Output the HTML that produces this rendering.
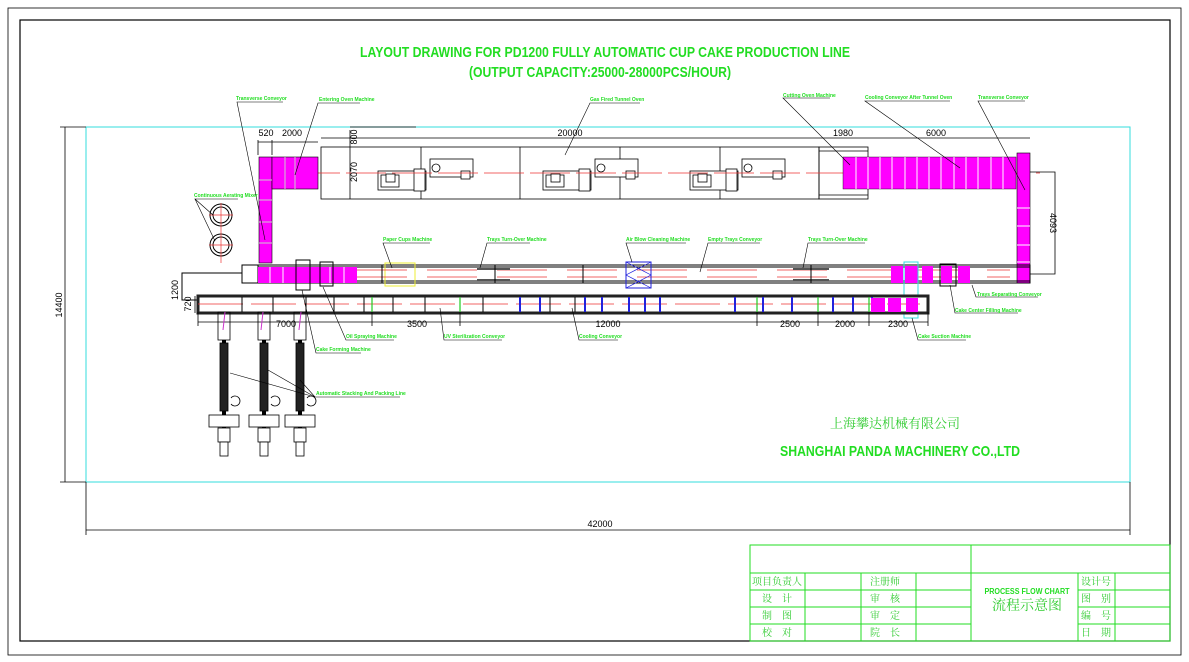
<!DOCTYPE html>
<html><head><meta charset="utf-8"><style>
html,body{margin:0;padding:0;background:#fff}
svg{display:block}
.l{font-family:"Liberation Sans",sans-serif;font-size:5px;font-weight:bold;fill:#22dd22}
.d{font-family:"Liberation Sans",sans-serif;font-size:9px;fill:#000}
.c{font-family:"Liberation Serif","Noto Serif CJK SC",serif;fill:#33cc33}
</style></head><body>
<svg width="1189" height="662" viewBox="0 0 1189 662" xmlns="http://www.w3.org/2000/svg">
<rect x="8" y="8" width="1173" height="647" fill="none" stroke="#000" stroke-width="0.8"/>
<rect x="20" y="20" width="1150" height="621" fill="none" stroke="#000" stroke-width="1.2"/>
<text x="605" y="57" text-anchor="middle" font-family="Liberation Sans,sans-serif" font-weight="bold" font-size="15" fill="#22dd22" textLength="490" lengthAdjust="spacingAndGlyphs">LAYOUT DRAWING FOR PD1200 FULLY AUTOMATIC CUP CAKE PRODUCTION LINE</text>
<text x="600" y="77" text-anchor="middle" font-family="Liberation Sans,sans-serif" font-weight="bold" font-size="15" fill="#22dd22" textLength="262" lengthAdjust="spacingAndGlyphs">(OUTPUT CAPACITY:25000-28000PCS/HOUR)</text>
<rect x="86" y="127" width="1044" height="355" fill="none" stroke="#33dddd" stroke-width="1"/>
<g stroke="#000" stroke-width="0.8" fill="none">
<line x1="65" y1="127" x2="65" y2="482"/><line x1="60" y1="127" x2="86" y2="127"/><line x1="60" y1="482" x2="86" y2="482"/>
<line x1="86" y1="530" x2="1130" y2="530"/><line x1="86" y1="482" x2="86" y2="535"/><line x1="1130" y1="482" x2="1130" y2="535"/>
</g>
<text x="600" y="527" text-anchor="middle" class="d" font-size="12">42000</text>
<text transform="translate(62,305) rotate(-90)" text-anchor="middle" class="d" font-size="12">14400</text>
<g stroke="#000" stroke-width="0.8" fill="none">
<line x1="321" y1="138" x2="1030" y2="138"/>
<line x1="350" y1="127" x2="416" y2="127"/>
<rect x="321" y="147" width="498" height="52"/>
<line x1="421" y1="147" x2="421" y2="199"/><line x1="520" y1="147" x2="520" y2="199"/>
<line x1="620" y1="147" x2="620" y2="199"/><line x1="720" y1="147" x2="720" y2="199"/>
<line x1="350" y1="130" x2="350" y2="199"/>
<rect x="819" y="147" width="49" height="52"/>
<line x1="819" y1="151" x2="868" y2="151"/><line x1="819" y1="195" x2="868" y2="195"/>
<line x1="258" y1="140" x2="258" y2="155"/><line x1="272" y1="140" x2="272" y2="155"/><line x1="258" y1="142" x2="318" y2="142"/>
</g>
<g stroke="#000" stroke-width="0.8" fill="#fff">
<g id="burner"><rect x="378" y="171" width="48" height="19"/><rect x="381" y="175" width="18" height="12"/><rect x="386" y="174" width="9" height="8"/><rect x="414" y="169" width="11" height="22"/><rect x="430" y="159" width="43" height="18"/><circle cx="436" cy="168" r="4"/><rect x="461" y="171" width="9" height="8"/></g>
<use href="#burner" x="165"/><use href="#burner" x="312"/>
</g>
<line x1="300" y1="173" x2="1040" y2="173" stroke="#e33" stroke-width="0.8" stroke-dasharray="40 6"/>
<rect x="259" y="157" width="13" height="106" fill="#f0f" stroke="#000" stroke-width="0.6"/>
<rect x="272" y="157" width="46" height="32" fill="#f0f" stroke="#000" stroke-width="0.6"/>
<g stroke="#ccc" stroke-width="1"><line x1="259" y1="180" x2="272" y2="180"/><line x1="259" y1="200" x2="272" y2="200"/><line x1="259" y1="222" x2="272" y2="222"/><line x1="259" y1="243" x2="272" y2="243"/><line x1="285" y1="157" x2="285" y2="189"/><line x1="295" y1="157" x2="295" y2="189"/></g>
<g stroke="#000" fill="none"><circle cx="221" cy="215" r="11"/><circle cx="221" cy="215" r="8"/><circle cx="221" cy="245" r="11"/><circle cx="221" cy="245" r="8"/></g>
<g stroke="#e33" stroke-width="0.7"><line x1="209" y1="215" x2="233" y2="215"/><line x1="221" y1="203" x2="221" y2="263"/><line x1="209" y1="245" x2="233" y2="245"/></g>
<rect x="843" y="157" width="173" height="32" fill="#f0f" stroke="#000" stroke-width="0.4"/>
<g stroke="#fff" stroke-width="1">
<line x1="856" y1="157" x2="856" y2="189"/><line x1="868" y1="157" x2="868" y2="189"/><line x1="880" y1="157" x2="880" y2="189"/><line x1="892" y1="157" x2="892" y2="189"/><line x1="905" y1="157" x2="905" y2="189"/><line x1="917" y1="157" x2="917" y2="189"/><line x1="929" y1="157" x2="929" y2="189"/><line x1="941" y1="157" x2="941" y2="189"/><line x1="954" y1="157" x2="954" y2="189"/><line x1="966" y1="157" x2="966" y2="189"/><line x1="978" y1="157" x2="978" y2="189"/><line x1="991" y1="157" x2="991" y2="189"/><line x1="1003" y1="157" x2="1003" y2="189"/></g>
<rect x="1017" y="153" width="13" height="130" fill="#f0f" stroke="#000" stroke-width="0.6"/>
<g stroke="#fff"><line x1="1017" y1="208" x2="1030" y2="208"/><line x1="1017" y1="226" x2="1030" y2="226"/><line x1="1017" y1="245" x2="1030" y2="245"/><line x1="1017" y1="262" x2="1030" y2="262"/></g>
<g stroke="#000" stroke-width="0.8" fill="none"><polyline points="1030,172 1055,172 1055,274 1030,274"/></g>
<text transform="translate(1050,223) rotate(90)" text-anchor="middle" class="d">4093</text>
<g stroke="#000" stroke-width="1" fill="none">
<rect x="242" y="265" width="788" height="18"/><line x1="242" y1="267" x2="1030" y2="267"/><line x1="242" y1="281" x2="1030" y2="281"/>
<rect x="242" y="265" width="16" height="18" fill="#fff"/>
<polyline points="242,273 182,273 182,300 198,300"/>
</g>
<rect x="258" y="267" width="99" height="16" fill="#f0f"/>
<g stroke="#fff"><line x1="270" y1="267" x2="270" y2="283"/><line x1="283" y1="267" x2="283" y2="283"/><line x1="330" y1="267" x2="330" y2="283"/><line x1="344" y1="267" x2="344" y2="283"/></g>
<g stroke="#000" fill="none"><rect x="296" y="260" width="14" height="30"/><rect x="320" y="262" width="13" height="24"/></g>
<rect x="385" y="263" width="30" height="23" fill="none" stroke="#ee3" stroke-width="1"/>
<g stroke="#e33" stroke-width="0.7"><line x1="357" y1="270" x2="1010" y2="270" stroke-dasharray="50 20"/><line x1="357" y1="277" x2="1010" y2="277" stroke-dasharray="50 20"/></g>
<rect x="626" y="262" width="25" height="26" fill="none" stroke="#22d" stroke-width="1"/>
<path d="M626,262 L651,275 L626,288 M651,262 L626,275 L651,288" stroke="#22d" fill="none" stroke-width="0.7"/>
<g stroke="#555" stroke-width="2"><line x1="477" y1="269" x2="510" y2="269"/><line x1="477" y1="280" x2="510" y2="280"/><line x1="793" y1="269" x2="829" y2="269"/><line x1="793" y1="280" x2="829" y2="280"/></g>
<g stroke="#000" stroke-width="1"><line x1="382" y1="265" x2="382" y2="283"/><line x1="495" y1="265" x2="495" y2="283"/><line x1="583" y1="265" x2="583" y2="283"/><line x1="811" y1="265" x2="811" y2="283"/></g>
<g fill="#f0f"><rect x="891" y="266" width="12" height="17"/><rect x="905" y="266" width="13" height="17"/><rect x="922" y="266" width="11" height="17"/><rect x="941" y="266" width="11" height="17"/><rect x="958" y="266" width="12" height="17"/></g>
<rect x="940" y="264" width="16" height="22" fill="none" stroke="#000"/>
<rect x="904" y="262" width="14" height="56" fill="none" stroke="#3dd" stroke-width="1"/>
<rect x="198" y="296" width="730" height="17" fill="#fff" stroke="#222" stroke-width="3"/>
<line x1="198" y1="304" x2="920" y2="304" stroke="#e33" stroke-width="0.8" stroke-dasharray="45 8"/>
<g stroke="#22d" stroke-width="2">
<line x1="520" y1="297" x2="520" y2="312"/><line x1="540" y1="297" x2="540" y2="312"/><line x1="585" y1="297" x2="585" y2="312"/><line x1="602" y1="297" x2="602" y2="312"/><line x1="629" y1="297" x2="629" y2="312"/><line x1="645" y1="297" x2="645" y2="312"/><line x1="660" y1="297" x2="660" y2="312"/><line x1="735" y1="297" x2="735" y2="312"/><line x1="763" y1="297" x2="763" y2="312"/><line x1="792" y1="297" x2="792" y2="312"/><line x1="833" y1="297" x2="833" y2="312"/><line x1="853" y1="297" x2="853" y2="312"/><line x1="872" y1="297" x2="872" y2="312"/></g>
<g stroke="#000" stroke-width="1">
<line x1="242" y1="297" x2="242" y2="312"/><line x1="273" y1="297" x2="273" y2="312"/><line x1="306" y1="297" x2="306" y2="312"/><line x1="334" y1="297" x2="334" y2="312"/><line x1="364" y1="297" x2="364" y2="312"/><line x1="393" y1="297" x2="393" y2="312"/><line x1="425" y1="297" x2="425" y2="312"/><line x1="483" y1="297" x2="483" y2="312"/><line x1="550" y1="297" x2="550" y2="312"/><line x1="575" y1="297" x2="575" y2="312"/></g>
<g stroke="#2c2" stroke-width="1.2"><line x1="372" y1="297" x2="372" y2="312"/><line x1="460" y1="297" x2="460" y2="312"/><line x1="757" y1="297" x2="757" y2="312"/><line x1="818" y1="297" x2="818" y2="312"/><line x1="869" y1="297" x2="869" y2="312"/></g>
<g fill="#f0f"><rect x="871" y="298" width="14" height="14"/><rect x="888" y="298" width="13" height="14"/><rect x="906" y="298" width="12" height="14"/></g>
<g stroke="#000" stroke-width="0.8" fill="none">
<line x1="198" y1="322" x2="928" y2="322"/>
<line x1="198" y1="312" x2="198" y2="326"/><line x1="372" y1="312" x2="372" y2="326"/><line x1="460" y1="312" x2="460" y2="326"/><line x1="757" y1="312" x2="757" y2="326"/><line x1="818" y1="312" x2="818" y2="326"/><line x1="869" y1="312" x2="869" y2="326"/><line x1="928" y1="312" x2="928" y2="326"/>
<line x1="182" y1="283" x2="182" y2="296"/><line x1="195" y1="296" x2="195" y2="313"/>
</g>
<g class="d" font-size="8" text-anchor="middle"><text x="286" y="327">7000</text><text x="417" y="327">3500</text><text x="608" y="327">12000</text><text x="790" y="327">2500</text><text x="845" y="327">2000</text><text x="898" y="327">2300</text>
<text x="266" y="136">520</text><text x="292" y="136">2000</text><text x="570" y="136">20000</text><text x="843" y="136">1980</text><text x="936" y="136">6000</text>
<text transform="translate(178,290) rotate(-90)">1200</text><text transform="translate(191,304) rotate(-90)">720</text>
<text transform="translate(357,137) rotate(-90)">800</text><text transform="translate(357,172) rotate(-90)">2070</text></g>
<g stroke="#000" fill="none" stroke-width="0.8">
<g id="pk"><rect x="218" y="312" width="12" height="28"/><line x1="224" y1="340" x2="224" y2="455" stroke-width="4"/><rect x="220" y="343" width="8" height="68" fill="#222"/><rect x="209" y="415" width="30" height="12" fill="#fff"/><rect x="218" y="428" width="12" height="14" fill="#fff"/><rect x="220" y="442" width="8" height="14" fill="#fff"/><path d="M231,398 a5,5 0 1 1 0,6" /></g>
<use href="#pk" x="40"/><use href="#pk" x="76"/>
</g>
<g stroke="#c3c" stroke-width="1"><line x1="225" y1="312" x2="223" y2="330"/><line x1="263" y1="312" x2="261" y2="330"/><line x1="301" y1="312" x2="299" y2="330"/></g>
<g stroke="#000" stroke-width="0.6" fill="none">
<polyline points="283,102 237,102 265,240"/><polyline points="360,103 318,103 295,175"/><polyline points="640,103 590,103 565,155"/><polyline points="830,98 783,98 850,165"/><polyline points="950,101 865,101 960,168"/><polyline points="1025,101 978,101 1025,190"/>
<polyline points="238,199 195,199 213,215"/><line x1="195" y1="199" x2="215" y2="241"/>
<polyline points="430,243 383,243 392,268"/><polyline points="530,243 487,243 480,268"/><polyline points="686,243 626,243 632,262"/><polyline points="760,243 708,243 700,272"/><polyline points="865,243 808,243 803,268"/>
<polyline points="394,340 346,340 323,287"/><polyline points="361,353 316,353 302,290"/><polyline points="502,340 444,340 440,308"/><polyline points="618,340 579,340 572,308"/><polyline points="966,340 918,340 912,318"/><polyline points="1038,297 976,297 972,285"/><polyline points="1018,313 955,313 950,285"/>
<polyline points="400,397 315,397 230,373"/><line x1="315" y1="397" x2="268" y2="370"/><line x1="315" y1="397" x2="300" y2="380"/>
</g>
<g class="l">
<text x="236" y="100">Transverse Conveyor</text><text x="319" y="101">Entering Oven Machine</text><text x="590" y="101">Gas Fired Tunnel Oven</text><text x="783" y="97">Cutting Oven Machine</text><text x="865" y="99">Cooling Conveyor After Tunnel Oven</text><text x="978" y="99">Transverse Conveyor</text>
<text x="194" y="197">Continuous Aerating Mixer</text>
<text x="383" y="241">Paper Cups Machine</text><text x="487" y="241">Trays Turn-Over Machine</text><text x="626" y="241">Air Blow Cleaning Machine</text><text x="708" y="241">Empty Trays Conveyor</text><text x="808" y="241">Trays Turn-Over Machine</text>
<text x="346" y="338">Oil Spraying Machine</text><text x="316" y="351">Cake Forming Machine</text><text x="444" y="338">UV Sterilization Conveyor</text><text x="579" y="338">Cooling Conveyor</text><text x="918" y="338">Cake Suction Machine</text><text x="977" y="296">Trays Separating Conveyor</text><text x="955" y="312">Cake Center Filling Machine</text>
<text x="316" y="395">Automatic Stacking And Packing Line</text>
</g>
<text x="895" y="428" text-anchor="middle" class="c" font-size="13" fill="#55bb55">上海攀达机械有限公司</text>
<text x="900" y="456" text-anchor="middle" font-family="Liberation Sans,sans-serif" font-weight="bold" font-size="15" fill="#22dd22" textLength="240" lengthAdjust="spacingAndGlyphs">SHANGHAI PANDA MACHINERY CO.,LTD</text>
<g stroke="#22dd22" stroke-width="1" fill="none">
<rect x="750" y="545" width="420" height="96"/>
<line x1="750" y1="573" x2="1170" y2="573"/>
<line x1="750" y1="590" x2="971" y2="590"/><line x1="750" y1="607" x2="971" y2="607"/><line x1="750" y1="624" x2="971" y2="624"/>
<line x1="1078" y1="590" x2="1170" y2="590"/><line x1="1078" y1="607" x2="1170" y2="607"/><line x1="1078" y1="624" x2="1170" y2="624"/>
<line x1="971" y1="545" x2="971" y2="641"/><line x1="805" y1="573" x2="805" y2="641"/><line x1="861" y1="573" x2="861" y2="641"/><line x1="916" y1="573" x2="916" y2="641"/><line x1="1078" y1="573" x2="1078" y2="641"/><line x1="1115" y1="573" x2="1115" y2="641"/>
</g>
<g class="c" font-size="10">
<text x="752" y="585">项目负责人</text><text x="762" y="602">设　计</text><text x="762" y="619">制　图</text><text x="762" y="636">校　对</text>
<text x="870" y="585">注册师</text><text x="870" y="602">审　核</text><text x="870" y="619">审　定</text><text x="870" y="636">院　长</text>
<text x="1081" y="585">设计号</text><text x="1081" y="602">图　别</text><text x="1081" y="619">编　号</text><text x="1081" y="636">日　期</text>
</g>
<text x="1027" y="594" text-anchor="middle" font-family="Liberation Sans,sans-serif" font-weight="bold" font-size="8" fill="#22dd22" textLength="85" lengthAdjust="spacingAndGlyphs">PROCESS FLOW CHART</text>
<text x="1027" y="610" text-anchor="middle" class="c" font-size="14" fill="#55bb55">流程示意图</text>
</svg>
</body></html>
